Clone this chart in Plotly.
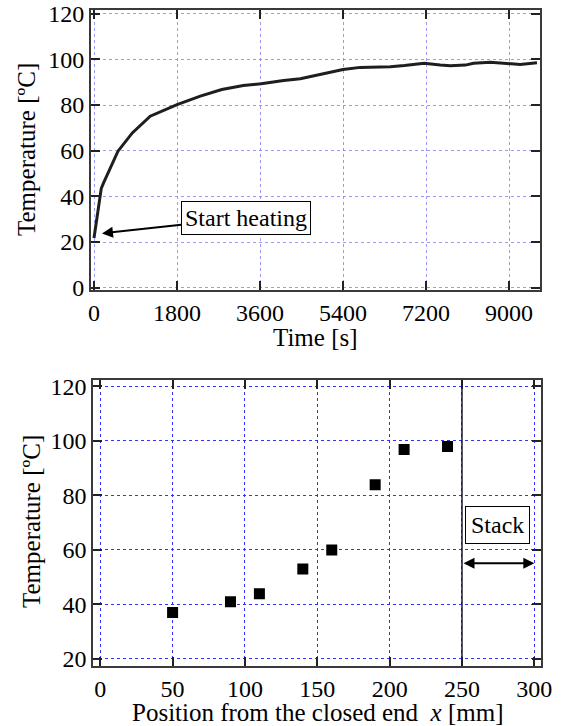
import plotly.graph_objects as go

# ---- Data: top chart (temperature history) ----
time_s = [0, 158, 210, 520, 831, 1219, 1801, 2306, 2772, 3238, 3626, 4112, 4474,
          4836, 5400, 5775, 6425, 6732, 7076, 7159, 7509, 7727, 8052, 8232, 8594,
          8829, 9006, 9243, 9607]
temp_c = [21.8, 43.5, 46.0, 59.8, 67.8, 75.1, 80.2, 83.9, 86.8, 88.6, 89.3, 90.8, 91.5,
          93.1, 95.6, 96.5, 96.8, 97.3, 98.2, 98.3, 97.5, 97.2, 97.5, 98.3, 98.8,
          98.4, 98.3, 97.8, 98.5]
time_ticks = [0, 1800, 3600, 5400, 7200, 9000]
temp_ticks_top = [0, 20, 40, 60, 80, 100, 120]

# ---- Data: bottom chart (temperature distribution) ----
position_mm = [50, 90, 110, 140, 160, 190, 210, 240]
temp_dist = [37.0, 41.0, 43.9, 53.0, 59.9, 83.9, 96.8, 97.9]
pos_ticks = [0, 50, 100, 150, 200, 250, 300]
temp_ticks_bot = [20, 40, 60, 80, 100, 120]
stack_start, stack_end = 250, 300

FONT = "Liberation Serif"
W, H = 561, 726
TICK_SIZE = 24
TITLE_SIZE = 25

fig = go.Figure()
fig.add_trace(go.Scatter(x=time_s, y=temp_c, mode="lines",
                         line=dict(color="#1e1e1e", width=3),
                         xaxis="x", yaxis="y", showlegend=False))
fig.add_trace(go.Scatter(x=position_mm, y=temp_dist, mode="markers",
                         marker=dict(symbol="square", size=11, color="black"),
                         xaxis="x2", yaxis="y2", showlegend=False))

def axis_common(gridcolor, tickvals, rng, domain, anchor):
    return dict(range=rng, domain=domain, anchor=anchor, tickvals=tickvals,
                showgrid=True, gridcolor=gridcolor, griddash="dot", gridwidth=1,
                zeroline=False, showline=True, linecolor="#3a3a3a", linewidth=2,
                mirror="ticks", ticks="inside", ticklen=9, tickwidth=2,
                tickcolor="#222", tickfont=dict(family=FONT, size=TICK_SIZE, color="black"),
                automargin=False)

fig.update_layout(
    width=W, height=H,
    margin=dict(l=0, r=0, t=0, b=0),
    paper_bgcolor="white", plot_bgcolor="white",
    font=dict(family=FONT, color="black"),
    xaxis=axis_common("rgba(120,120,235,0.75)", time_ticks, [-65, 9672],
                      [91 / W, 540 / W], "y"),
    yaxis=axis_common("rgba(120,120,235,0.75)", temp_ticks_top, [-1.0, 121.5],
                      [1 - 290 / H, 1 - 10.3 / H], "x"),
    xaxis2=axis_common("rgb(50,50,255)", pos_ticks, [-4.8, 304.4],
                       [93.3 / W, 540.7 / W], "y2"),
    yaxis2=axis_common("rgb(50,50,255)", temp_ticks_bot, [17.5, 122.4],
                       [1 - 665.7 / H, 1 - 379.7 / H], "x2"),
)

# Axis titles (placed in paper coordinates)
title_font = dict(family=FONT, size=TITLE_SIZE, color="black")
def title_ann(x_px, y_px, text, angle=0):
    fig.add_annotation(xref="paper", yref="paper", x=x_px / W, y=1 - y_px / H,
                       xanchor="center", yanchor="middle", text=text,
                       textangle=angle, showarrow=False, font=title_font)

title_ann((91 + 540) / 2, 338, "Time [s]")
title_ann(27, 150, "Temperature [ºC]", -90)
title_ann((93 + 541) / 2, 712, "Position from the closed end  <i>x</i> [mm]")
title_ann(31, 522, "Temperature [ºC]", -90)

# Stack boundary line
fig.add_shape(type="line", xref="x2", yref="y2 domain", x0=stack_start, x1=stack_start,
              y0=0, y1=1, line=dict(color="#1a1a30", width=1.5))

# Annotations
fig.add_annotation(xref="x", yref="y", axref="x", ayref="y",
                   x=173, y=23.8, ax=3292, ay=30.7,
                   text="Start heating", showarrow=True,
                   arrowhead=2, arrowsize=1.1, arrowwidth=2, arrowcolor="black",
                   font=dict(family=FONT, size=TICK_SIZE, color="black"),
                   bordercolor="black", borderwidth=1, borderpad=3, bgcolor="white")
fig.add_annotation(xref="x2", yref="y2", x=274.6, y=69,
                   text="Stack", showarrow=False,
                   font=dict(family=FONT, size=TICK_SIZE, color="black"),
                   bordercolor="black", borderwidth=1, borderpad=5, bgcolor="white")
fig.add_annotation(xref="x2", yref="y2", axref="x2", ayref="y2",
                   x=stack_end, y=55.1, ax=stack_start, ay=55.1,
                   text="", showarrow=True, arrowside="end+start",
                   arrowhead=2, startarrowhead=2, arrowsize=1.1, startarrowsize=1.1,
                   arrowwidth=2, arrowcolor="black", standoff=0, startstandoff=0)

fig.write_html("out.html", config={"displayModeBar": False},
               post_script="document.body.style.margin='0';document.body.style.overflow='hidden';")
